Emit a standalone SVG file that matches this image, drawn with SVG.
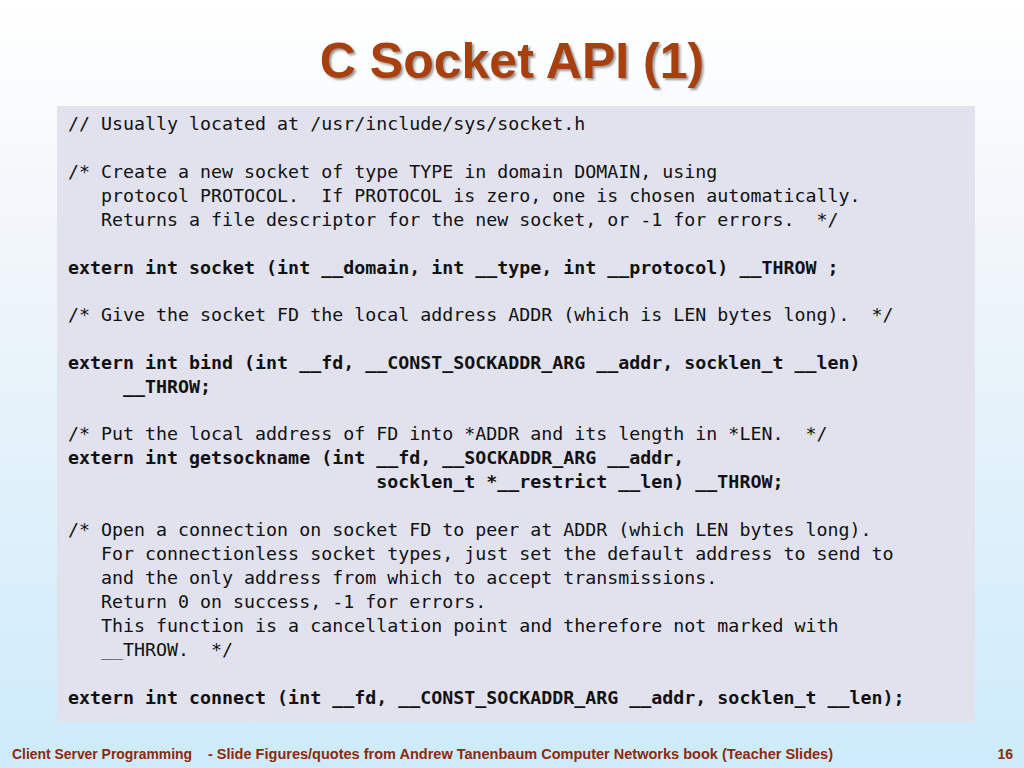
<svg xmlns="http://www.w3.org/2000/svg" width="1024" height="768" viewBox="0 0 1024 768">
<defs>
<linearGradient id="bg" x1="0" y1="0" x2="0" y2="1"><stop offset="0" stop-color="#FFFFFF"/><stop offset="0.3" stop-color="#F2F6FA"/><stop offset="1" stop-color="#CDEBFB"/></linearGradient>
<filter id="sh"><feDropShadow dx="2" dy="2" stdDeviation="1" flood-color="#555" flood-opacity="0.6"/></filter>
</defs>
<style>
.c{font-family:"DejaVu Sans Mono","Liberation Mono",monospace;font-size:18.3px;fill:#111;white-space:pre}
.b{font-weight:bold}
.f{font-family:"Liberation Sans",Arial,sans-serif;font-size:14px;font-weight:bold;fill:#8B2A0A}
</style>
<rect width="1024" height="768" fill="url(#bg)"/>
<text x="512" y="78" text-anchor="middle" font-family="Liberation Sans,Arial,sans-serif" font-size="50" font-weight="bold" fill="#A8400E" filter="url(#sh)">C Socket API (1)</text>
<rect x="57" y="106" width="918" height="616" fill="#E1E2EE"/>
<g id="code">
<text class="c" x="68" y="130">// Usually located at /usr/include/sys/socket.h</text>
<text class="c" x="68" y="178">/* Create a new socket of type TYPE in domain DOMAIN, using</text>
<text class="c" x="68" y="202">   protocol PROTOCOL.  If PROTOCOL is zero, one is chosen automatically.</text>
<text class="c" x="68" y="226">   Returns a file descriptor for the new socket, or -1 for errors.  */</text>
<text class="c b" x="68" y="274">extern int socket (int __domain, int __type, int __protocol) __THROW ;</text>
<text class="c" x="68" y="321">/* Give the socket FD the local address ADDR (which is LEN bytes long).  */</text>
<text class="c b" x="68" y="369">extern int bind (int __fd, __CONST_SOCKADDR_ARG __addr, socklen_t __len)</text>
<text class="c b" x="68" y="393">     __THROW;</text>
<text class="c" x="68" y="440">/* Put the local address of FD into *ADDR and its length in *LEN.  */</text>
<text class="c b" x="68" y="464">extern int getsockname (int __fd, __SOCKADDR_ARG __addr,</text>
<text class="c b" x="68" y="488">                            socklen_t *__restrict __len) __THROW;</text>
<text class="c" x="68" y="536">/* Open a connection on socket FD to peer at ADDR (which LEN bytes long).</text>
<text class="c" x="68" y="560">   For connectionless socket types, just set the default address to send to</text>
<text class="c" x="68" y="584">   and the only address from which to accept transmissions.</text>
<text class="c" x="68" y="608">   Return 0 on success, -1 for errors.</text>
<text class="c" x="68" y="632">   This function is a cancellation point and therefore not marked with</text>
<text class="c" x="68" y="656">   __THROW.  */</text>
<text class="c b" x="68" y="704">extern int connect (int __fd, __CONST_SOCKADDR_ARG __addr, socklen_t __len);</text>
</g>
<text class="f" x="12" y="759" textLength="180" lengthAdjust="spacingAndGlyphs">Client Server Programming</text>
<text class="f" x="208" y="759" textLength="625" lengthAdjust="spacingAndGlyphs">- Slide Figures/quotes from Andrew  Tanenbaum Computer  Networks book (Teacher  Slides)</text>
<text class="f" x="1013" y="759" text-anchor="end">16</text>
</svg>
